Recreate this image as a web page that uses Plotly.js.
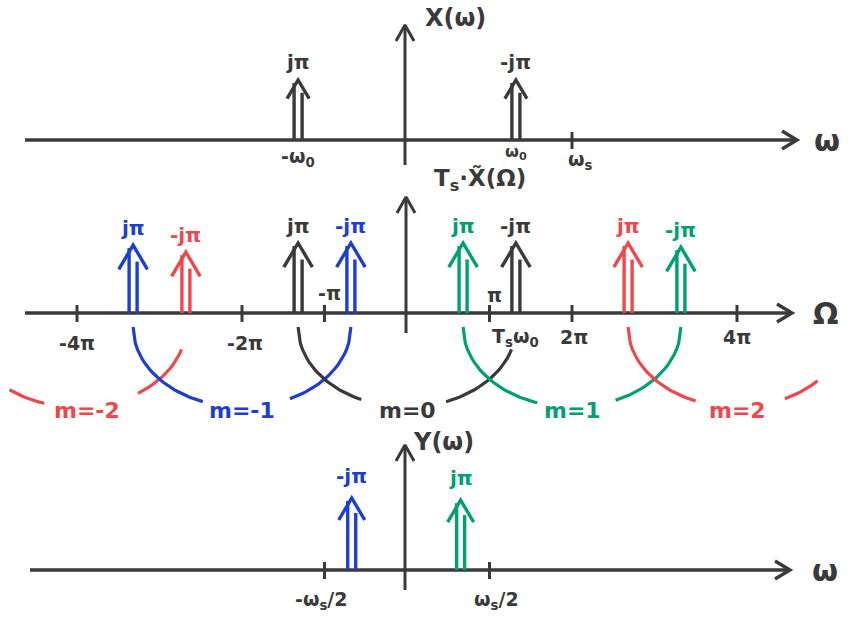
<!DOCTYPE html>
<html>
<head>
<meta charset="utf-8">
<script src="https://cdn.plot.ly/plotly-3.0.1.min.js"></script>
<style>
  html, body { margin: 0; padding: 0; background: #fff; }
  #plot { width: 855px; height: 622px; }
</style>
</head>
<body>
<div id="plot"></div>
<script>
// x is in units of pi, with omega scaled so that omega_s sits at 2pi

// top panel X(w)
const xImpX = [-1.32, 1.32];
const xImpH = [1, 1];
const xImpText = ['jπ', '-jπ'];
const xImpAxisText = ['-ω<sub>0</sub>', 'ω<sub>0</sub>'];
const xTickX = [2];
const xTickText = ['ω<sub>s</sub>'];

// middle panel Ts * X~(Omega)
const sImpX = [-3.32, -2.68, -1.32, -0.68, 0.68, 1.32, 2.68, 3.32];
const sImpH = [0.97, 0.87, 1, 1, 1, 1, 1, 0.94];
const sImpM = [-1, -2, 0, -1, 1, 0, 2, 1];
const sImpText = ['jπ', '-jπ', 'jπ', '-jπ', 'jπ', '-jπ', 'jπ', '-jπ'];
const sTickX = [-4, -2, -1, 1, 2, 4];
const sTickText = ['-4π', '-2π', '-π', 'π', '2π', '4π'];

// shifted copies, each one spans a pair of impulses
const copyM = [-2, -1, 0, 1, 2];
const copyLeft = [-5.32, -3.32, -1.32, 0.68, 2.68];
const copyRight = [-2.68, -0.68, 1.32, 3.32, 5.32];

// bottom panel Y(w)
const yImpX = [-0.67, 0.65];
const yImpH = [1, 0.97];
const yImpM = [-1, 1];
const yImpText = ['-jπ', 'jπ'];
const yTickX = [-1, 1];
const yTickText = ['-ω<sub>s</sub>/2', 'ω<sub>s</sub>/2'];

const copyColor = { '-2': '#f0474c', '-1': '#1c3fd2', '0': '#3a3a3a', '1': '#00a074', '2': '#f0474c' };
const ink = '#3a3a3a';
const fontFam = 'DejaVu Sans, sans-serif';

const W = 855, H = 622;
const x0px = 407, pxPerX = 82.5;
const xRange = [-x0px / pxPerX, (W - x0px) / pxPerX];

// pixel band, zero line and pixels per unit of each panel
const panels = {
    y3: { band: [0, 175], zero: 140, unit: 60, head: 0.85, gap: 18 },
    y2: { band: [175, 430], zero: 313, unit: 70, head: 1.1, gap: 17 },
    y:  { band: [430, 622], zero: 570, unit: 72, head: 1, gap: 22 }
};

function axisFor(p) {
    return {
        domain: [1 - p.band[1] / H, 1 - p.band[0] / H],
        range: [-(p.band[1] - p.zero) / p.unit, (p.zero - p.band[0]) / p.unit],
        visible: false, fixedrange: true, anchor: 'x'
    };
}

const toX = px => (px - x0px) / pxPerX;
const toY = (ya, px) => (panels[ya].zero - px) / panels[ya].unit;

const traces = [];
const annotations = [];

function addLine(xs, ys, ya, color, width) {
    traces.push({
        x: xs, y: ys, xaxis: 'x', yaxis: ya, type: 'scatter', mode: 'lines',
        line: { color: color, width: width || 3.2 }, hoverinfo: 'skip', showlegend: false
    });
}

function addText(xd, yd, ya, text, color, size) {
    annotations.push({
        x: xd, y: yd, xref: 'x', yref: ya, text: text, showarrow: false,
        xanchor: 'center', yanchor: 'middle',
        font: { family: fontFam, size: size || 19, color: color, weight: 'bold' }
    });
}

// double shafted arrow, the way impulses are drawn by hand
function addImpulse(c, h, ya, color, label) {
    const p = panels[ya];
    const k = p.head;
    const gx = 4 / pxPerX;
    const hx = 13 * k / pxPerX, hy = 22 * k / p.unit;
    addLine([c - gx, c - gx, null, c + gx, c + gx, null, c - hx, c, c + hx],
            [0, h - 3 / p.unit, null, 0, h - 15 * k / p.unit, null, h - hy, h, h - hy],
            ya, color, 3.4);
    addText(c, h + p.gap / p.unit, ya, label, color, 20);
}

// axes: horizontal line with arrow, vertical line with arrow
const axesGeom = [
    { ya: 'y3', h: [25, 797], vx: 405, v: [165, 25] },
    { ya: 'y2', h: [25, 792], vx: 406, v: [333, 197] },
    { ya: 'y',  h: [30, 790], vx: 405, v: [590, 445] }
];
axesGeom.forEach(function (g) {
    const z = panels[g.ya].zero;
    addLine([toX(g.h[0]), toX(g.h[1])], [0, 0], g.ya, ink, 3.4);
    addLine([toX(g.h[1] - 15), toX(g.h[1]), toX(g.h[1] - 15)],
            [toY(g.ya, z - 9), 0, toY(g.ya, z + 9)], g.ya, ink, 3.4);
    addLine([toX(g.vx), toX(g.vx)], [toY(g.ya, g.v[0]), toY(g.ya, g.v[1])], g.ya, ink, 3);
    addLine([toX(g.vx - 9), toX(g.vx), toX(g.vx + 9)],
            [toY(g.ya, g.v[1] + 16), toY(g.ya, g.v[1]), toY(g.ya, g.v[1] + 16)], g.ya, ink, 3);
});

function addTick(xd, ya) {
    const z = panels[ya].zero;
    addLine([xd, xd], [toY(ya, z - 8), toY(ya, z + 9)], ya, ink, 3);
}

// axis names
addText(toX(827), 0, 'y3', 'ω', ink, 30);
addText(toX(826), 0, 'y2', 'Ω', ink, 30);
addText(toX(825), 0, 'y', 'ω', ink, 30);
addText(toX(455), toY('y3', 18), 'y3', 'X(ω)', ink, 24);
addText(toX(480), toY('y2', 180), 'y2', 'T<sub>s</sub>·X̃(Ω)', ink, 23);
addText(toX(443), toY('y', 442), 'y', 'Y(ω)', ink, 24);

// top panel
xImpX.forEach(function (c, i) {
    addImpulse(c, xImpH[i], 'y3', ink, xImpText[i]);
});
const xImpAxisDy = [17, 12];
xImpX.forEach(function (c, i) {
    addText(c, toY('y3', 140 + xImpAxisDy[i]), 'y3', xImpAxisText[i], ink, i === 0 ? 19 : 16);
});
xTickX.forEach(function (t, i) {
    addTick(t, 'y3');
    addText(t + 8 / pxPerX, toY('y3', 160), 'y3', xTickText[i], ink, 19);
});

// middle panel
sImpX.forEach(function (c, i) {
    addImpulse(c, sImpH[i], 'y2', copyColor[sImpM[i]], sImpText[i]);
});
const sTickDx = [0, 3, 5, 5, 2, 0];
const sTickDy = [30, 30, -20, -18, 24, 24];
sTickX.forEach(function (t, i) {
    addTick(t, 'y2');
    addText(t + sTickDx[i] / pxPerX, toY('y2', 313 + sTickDy[i]), 'y2', sTickText[i], ink, 19);
});
addText(1.32, toY('y2', 337), 'y2', 'T<sub>s</sub>ω<sub>0</sub>', ink, 19);

// arcs that tie each copy's pair of impulses, broken for the m label
const arcParts = [
    [[0.19, 0.35], [0.78, 0.98]],
    [[0, 0.32], [0.72, 1]],
    [[0, 0.29], [0.68, 0.98]],
    [[0, 0.34], [0.70, 1]],
    [[0, 0.31], [0.72, 0.87]]
];
const arcTop = toY('y2', 327), arcDepth = 80 / panels.y2.unit;
copyM.forEach(function (m, i) {
    const L = copyLeft[i], R = copyRight[i];
    const cx = (L + R) / 2, a = (R - L) / 2;
    arcParts[i].forEach(function (part) {
        const xs = [], ys = [];
        for (let t = part[0]; t <= part[1] + 1e-9; t += 0.01) {
            const x = L + t * (R - L);
            const u = Math.min(1, Math.abs(x - cx) / a);
            xs.push(x);
            ys.push(arcTop - arcDepth * Math.sqrt(1 - u * u));
        }
        addLine(xs, ys, 'y2', copyColor[m], 3.2);
    });
    const lbl = 'm=' + m;
    addText(cx + (m === -2 ? 10 / pxPerX : 0), toY('y2', 410), 'y2', lbl, copyColor[m], 22);
});

// bottom panel
yImpX.forEach(function (c, i) {
    addImpulse(c, yImpH[i], 'y', copyColor[yImpM[i]], yImpText[i]);
});
const yTickDx = [-3, 7];
yTickX.forEach(function (t, i) {
    addTick(t, 'y');
    addText(t + yTickDx[i] / pxPerX, toY('y', 600), 'y', yTickText[i], ink, 19);
});

const layout = {
    width: W, height: H,
    margin: { l: 0, r: 0, t: 0, b: 0 },
    paper_bgcolor: '#ffffff', plot_bgcolor: '#ffffff',
    showlegend: false,
    xaxis: { range: xRange, visible: false, fixedrange: true },
    yaxis: axisFor(panels.y),
    yaxis2: axisFor(panels.y2),
    yaxis3: axisFor(panels.y3),
    annotations: annotations
};

Plotly.newPlot('plot', traces, layout, { staticPlot: true, displayModeBar: false });
</script>
</body>
</html>
